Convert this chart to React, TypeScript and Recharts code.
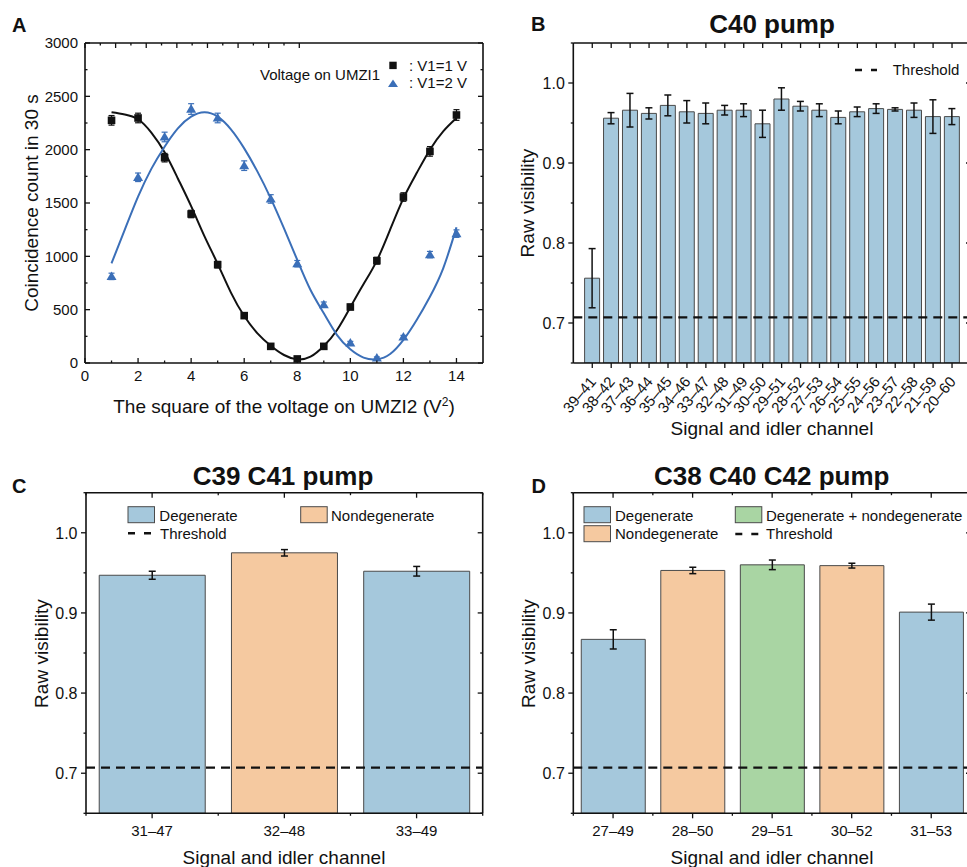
import React from "react";
import {
  BarChart,
  Bar,
  Cell,
  ComposedChart,
  ErrorBar,
  Line,
  ReferenceLine,
  Scatter,
  XAxis,
  YAxis,
} from "recharts";

const FONT = "Arial, 'Liberation Sans', Helvetica, sans-serif";
const INK = "#111";
const LINE_BLUE = "#3b6fb8";
const FILL: Record<string, string> = { deg: "#a5c8dc", nondeg: "#f5c9a0", both: "#a9d5a3" };
const BAR_EDGE = "#4a4a4a";
const THRESHOLD = 0.707;

// A: coincidence counts vs squared voltage on UMZI2
const voltageSq = [1, 2, 3, 4, 5, 6, 7, 8, 9, 10, 11, 12, 13, 14];
const countsV1 = [2275, 2297, 1925, 1397, 922, 444, 156, 38, 156, 525, 959, 1556, 1984, 2325];
const errV1 = [45, 45, 40, 35, 30, 22, 15, 10, 15, 25, 32, 40, 45, 50];
const countsV2 = [812, 1741, 2119, 2381, 2297, 1850, 1538, 931, 547, 188, 47, 244, 1016, 1213];
const errV2 = [30, 40, 45, 50, 45, 45, 40, 30, 25, 15, 10, 15, 30, 35];
const fitX = [1, 1.5, 2, 2.5, 3, 3.5, 4, 4.5, 5, 5.5, 6, 6.5, 7, 7.5, 8, 8.5, 9, 9.5, 10, 10.5, 11, 11.5, 12, 12.5, 13, 13.5, 14];
const fitV1 = [2350, 2330, 2285, 2160, 1975, 1730, 1470, 1190, 930, 660, 440, 278, 162, 75, 34, 59, 159, 309, 522, 740, 960, 1250, 1544, 1781, 2000, 2172, 2297];
const fitV2 = [935, 1250, 1559, 1820, 2028, 2200, 2309, 2350, 2309, 2190, 2012, 1794, 1544, 1262, 966, 684, 466, 262, 128, 50, 34, 84, 216, 403, 622, 888, 1272];
const aXTicks = [0, 1, 2, 3, 4, 5, 6, 7, 8, 9, 10, 11, 12, 13, 14];
const aYTicks = [0, 250, 500, 750, 1000, 1250, 1500, 1750, 2000, 2250, 2500, 2750, 3000];

// B: C40 pump
const bChannels = ["39–41", "38–42", "37–43", "36–44", "35–45", "34–46", "33–47", "32–48", "31–49", "30–50", "29–51", "28–52", "27–53", "26–54", "25–55", "24–56", "23–57", "22–58", "21–59", "20–60"];
const bVisibility = [0.756, 0.956, 0.966, 0.962, 0.972, 0.964, 0.962, 0.966, 0.966, 0.949, 0.98, 0.971, 0.966, 0.957, 0.964, 0.968, 0.967, 0.966, 0.958, 0.958];
const bError = [0.037, 0.007, 0.021, 0.007, 0.013, 0.014, 0.013, 0.006, 0.008, 0.017, 0.014, 0.006, 0.008, 0.008, 0.006, 0.006, 0.002, 0.009, 0.021, 0.01];

// C: C39 C41 pump
const cChannels = ["31–47", "32–48", "33–49"];
const cVisibility = [0.947, 0.975, 0.952];
const cError = [0.005, 0.004, 0.006];
const cKind = ["deg", "nondeg", "deg"];

// D: C38 C40 C42 pump
const dChannels = ["27–49", "28–50", "29–51", "30–52", "31–53"];
const dVisibility = [0.867, 0.953, 0.96, 0.959, 0.901];
const dError = [0.012, 0.004, 0.006, 0.003, 0.01];
const dKind = ["deg", "nondeg", "both", "nondeg", "deg"];

const visTicks = [0.65, 0.7, 0.75, 0.8, 0.85, 0.9, 0.95, 1.0, 1.05];

const fitRows = fitX.map((x, i) => ({ x, v1: fitV1[i], v2: fitV2[i] }));
const v1Rows = voltageSq.map((x, i) => ({ x, y: countsV1[i], err: errV1[i] }));
const v2Rows = voltageSq.map((x, i) => ({ x, y: countsV2[i], err: errV2[i] }));
const bRows = bChannels.map((ch, i) => ({ ch, vis: bVisibility[i], err: bError[i] }));
const cRows = cChannels.map((ch, i) => ({ ch, vis: cVisibility[i], err: cError[i], kind: cKind[i] }));
const dRows = dChannels.map((ch, i) => ({ ch, vis: dVisibility[i], err: dError[i], kind: dKind[i] }));

const axisStyle = { stroke: INK, strokeWidth: 1.6 };
const tickStroke = { stroke: INK, strokeWidth: 1.3 };
const OUT: Record<string, [number, number]> = { left: [-1, 0], right: [1, 0], top: [0, -1], bottom: [0, 1] };

const visMajor = (v: number) => Math.round(v * 100) % 10 === 0;
const visFmt = (v: number) => v.toFixed(1);

// one tick: line drawn from the axis, label only on major ticks
function AxisTick(props: any) {
  const { x, y, payload, side, inward, major, fmt, fs = 15, gap = 7, half, index, visibleTicksCount } = props;
  const isMaj = major ? major(payload.value) : true;
  const len = isMaj ? 5 : 2.5;
  const [ox, oy] = OUT[side];
  const s = inward ? -1 : 1;
  const mark = (px: number, py: number, l: number, k: string) => (
    <line key={k} x1={px} y1={py} x2={px + s * ox * l} y2={py + s * oy * l} {...tickStroke} />
  );
  const parts = [mark(x, y, len, "t")];
  if (half) {
    parts.push(mark(x - half, y, 2.5, "m0"));
    if (index === visibleTicksCount - 1) parts.push(mark(x + half, y, 2.5, "m1"));
  }
  if (isMaj && fmt) {
    if (side === "left") {
      parts.push(
        <text key="l" x={x - gap} y={y} dy="0.36em" textAnchor="end" fontSize={fs} fill={INK}>
          {fmt(payload.value)}
        </text>
      );
    } else if (side === "bottom") {
      parts.push(
        <text key="l" x={x} y={y + gap} dy="0.71em" textAnchor="middle" fontSize={fs} fill={INK}>
          {fmt(payload.value)}
        </text>
      );
    }
  }
  return <g>{parts}</g>;
}

function SlantTick(props: any) {
  const { x, y, payload } = props;
  return (
    <g>
      <line x1={x} y1={y} x2={x} y2={y + 5} {...tickStroke} />
      <text transform={`translate(${x + 4.5},${y + 19}) rotate(-50)`} textAnchor="end" fontSize={15} fill={INK}>
        {payload.value}
      </text>
    </g>
  );
}

const squareShape = (p: any) => <rect x={p.cx - 3.8} y={p.cy - 3.8} width={7.6} height={7.6} fill={INK} />;
const triangleShape = (p: any) => (
  <polygon points={`${p.cx},${p.cy - 5} ${p.cx + 5},${p.cy + 3.6} ${p.cx - 5},${p.cy + 3.6}`} fill={LINE_BLUE} />
);

function PanelA() {
  return (
    <ComposedChart width={500} height={440} data={fitRows} margin={{ top: 33, right: 7, bottom: 47, left: 25 }}>
      <XAxis
        xAxisId="b" dataKey="x" type="number" domain={[0, 15]} ticks={aXTicks} interval={0} height={30}
        tickSize={0} tickMargin={0} tickLine={false} axisLine={axisStyle} allowDataOverflow
        tick={(p: any) => <AxisTick {...p} side="bottom" inward major={(v: number) => v % 2 === 0} fmt={String} gap={7.7} />}
      />
      <XAxis
        xAxisId="t" orientation="top" type="number" domain={[0, 15]} ticks={aXTicks} interval={0} height={10}
        tickSize={0} tickMargin={0} tickLine={false} axisLine={axisStyle} allowDataOverflow
        tick={(p: any) => <AxisTick {...p} side="top" inward major={(v: number) => v % 2 === 0} />}
      />
      <YAxis
        yAxisId="l" type="number" domain={[0, 3000]} ticks={aYTicks} interval={0} width={60}
        tickSize={0} tickMargin={0} tickLine={false} axisLine={axisStyle} allowDataOverflow
        tick={(p: any) => <AxisTick {...p} side="left" inward major={(v: number) => v % 500 === 0} fmt={String} gap={7} />}
      />
      <YAxis
        yAxisId="r" orientation="right" type="number" domain={[0, 3000]} ticks={aYTicks} interval={0} width={10}
        tickSize={0} tickMargin={0} tickLine={false} axisLine={axisStyle} allowDataOverflow
        tick={(p: any) => <AxisTick {...p} side="right" inward major={(v: number) => v % 500 === 0} />}
      />
      <Line xAxisId="b" yAxisId="l" dataKey="v1" type="natural" stroke={INK} strokeWidth={2} dot={false} isAnimationActive={false} />
      <Line xAxisId="b" yAxisId="l" dataKey="v2" type="natural" stroke={LINE_BLUE} strokeWidth={2} dot={false} isAnimationActive={false} />
      <Scatter xAxisId="b" yAxisId="l" data={v1Rows} dataKey="y" shape={squareShape} isAnimationActive={false}>
        <ErrorBar dataKey="err" direction="y" width={3} stroke={INK} strokeWidth={1.2} />
      </Scatter>
      <Scatter xAxisId="b" yAxisId="l" data={v2Rows} dataKey="y" shape={triangleShape} isAnimationActive={false}>
        <ErrorBar dataKey="err" direction="y" width={3} stroke={LINE_BLUE} strokeWidth={1.2} />
      </Scatter>
    </ComposedChart>
  );
}

function visAxes(plotW: number, n: number, slant: boolean, pad: number) {
  const half = slant ? undefined : plotW / n / 2;
  return [
    <XAxis
      key="xb" xAxisId="c" dataKey="ch" type="category" padding={{ left: pad, right: pad }} height={slant ? 60 : 30}
      interval={0} tickSize={0} tickMargin={0} tickLine={false} axisLine={axisStyle}
      tick={(p: any) =>
        slant ? <SlantTick {...p} /> : <AxisTick {...p} side="bottom" half={half} fmt={String} gap={12.4} fs={15} />
      }
    />,
    <XAxis
      key="xt" xAxisId="ct" orientation="top" dataKey="ch" type="category" padding={{ left: pad, right: pad }} height={10}
      interval={0} tickSize={0} tickMargin={0} tickLine={false} axisLine={axisStyle}
      tick={(p: any) => <AxisTick {...p} side="top" inward half={half} />}
    />,
    <YAxis
      key="yl" yAxisId="v" type="number" domain={[0.65, 1.05]} ticks={visTicks} interval={0} width={53}
      tickSize={0} tickMargin={0} tickLine={false} axisLine={axisStyle} allowDataOverflow
      tick={(p: any) => <AxisTick {...p} side="left" major={visMajor} fmt={visFmt} gap={8.5} fs={16} />}
    />,
    <YAxis
      key="yr" yAxisId="vr" orientation="right" type="number" domain={[0.65, 1.05]} ticks={visTicks} interval={0} width={10}
      tickSize={0} tickMargin={0} tickLine={false} axisLine={axisStyle} allowDataOverflow
      tick={(p: any) => <AxisTick {...p} side="right" inward major={visMajor} />}
    />,
  ];
}

const threshold = (
  <ReferenceLine xAxisId="c" yAxisId="v" y={THRESHOLD} stroke={INK} strokeWidth={2.4} strokeDasharray="9 6" />
);

function PanelB() {
  return (
    <BarChart width={461} height={440} data={bRows} margin={{ top: 33, right: 0, bottom: 17, left: 0.3 }} barCategoryGap="9.5%">
      {visAxes(397.7, 20, true, 9.5)}
      <Bar xAxisId="c" yAxisId="v" dataKey="vis" fill={FILL.deg} stroke={BAR_EDGE} strokeWidth={1} isAnimationActive={false}>
        <ErrorBar dataKey="err" direction="y" width={3.5} stroke={INK} strokeWidth={1.5} />
      </Bar>
      {threshold}
    </BarChart>
  );
}

function KindBars({ rows, width, left, right }: { rows: any[]; width: number; left: number; right: number }) {
  const plotW = width - left - right - 53 - 10;
  return (
    <BarChart width={width} height={427} data={rows} margin={{ top: 42.7, right, bottom: 23.7, left }} barCategoryGap="10%">
      {visAxes(plotW, rows.length, false, 0)}
      <Bar xAxisId="c" yAxisId="v" dataKey="vis" stroke={BAR_EDGE} strokeWidth={1} isAnimationActive={false}>
        {rows.map((r) => (
          <Cell key={r.ch} fill={FILL[r.kind]} />
        ))}
        <ErrorBar dataKey="err" direction="y" width={3.5} stroke={INK} strokeWidth={1.5} />
      </Bar>
      {threshold}
    </BarChart>
  );
}

function Swatch({ x, y, kind }: { x: number; y: number; kind: string }) {
  return <rect x={x} y={y} width={26.5} height={16} fill={FILL[kind]} stroke={BAR_EDGE} strokeWidth={1} />;
}

function Dash({ x, y, w }: { x: number; y: number; w: number }) {
  return <line x1={x} y1={y} x2={x + w} y2={y} stroke={INK} strokeWidth={2.5} strokeDasharray="7 9" />;
}

function Overlay() {
  const letter = { fontSize: 20, fontWeight: 700, fill: INK };
  const title = { fontSize: 26, fontWeight: 700, fill: INK, textAnchor: "middle" as const };
  const axisLbl = { fontSize: 19, fill: INK, textAnchor: "middle" as const };
  const leg = { fontSize: 15, fill: INK };
  return (
    <svg width={967} height={867} style={{ position: "absolute", left: 0, top: 0, pointerEvents: "none" }}>
      <text x={12} y={32} {...letter}>A</text>
      <text x={531} y={31} {...letter}>B</text>
      <text x={12} y={493} {...letter}>C</text>
      <text x={531.5} y={493} {...letter}>D</text>

      <text x={772} y={33} {...title}>C40 pump</text>
      <text x={283} y={485} {...title}>C39 C41 pump</text>
      <text x={771.7} y={485} {...title}>C38 C40 C42 pump</text>

      <text transform="translate(38,203) rotate(-90)" {...axisLbl}>Coincidence count in 30 s</text>
      <text x={284} y={412.7} {...axisLbl}>
        The square of the voltage on UMZI2 (V<tspan dy={-7} fontSize={12}>2</tspan>
        <tspan dy={7}>)</tspan>
      </text>
      <text transform="translate(534,203) rotate(-90)" {...axisLbl}>Raw visibility</text>
      <text x={772} y={435} {...axisLbl}>Signal and idler channel</text>
      <text transform="translate(48,653.5) rotate(-90)" {...axisLbl}>Raw visibility</text>
      <text x={284} y={864} {...axisLbl}>Signal and idler channel</text>
      <text transform="translate(535,653.5) rotate(-90)" {...axisLbl}>Raw visibility</text>
      <text x={772} y={864} {...axisLbl}>Signal and idler channel</text>

      {/* A legend */}
      <text x={260} y={80} {...leg}>Voltage on UMZI1</text>
      <rect x={389.3} y={61.7} width={7.4} height={7.4} fill={INK} />
      <text x={409} y={70.7} {...leg}>: V1=1 V</text>
      <polygon points="393,79.5 398,87 388,87" fill={LINE_BLUE} />
      <text x={409} y={88.3} {...leg}>: V1=2 V</text>

      {/* B legend */}
      <Dash x={855} y={70} w={22} />
      <text x={892.7} y={75} {...leg}>Threshold</text>

      {/* C legend */}
      <Swatch x={128} y={506.7} kind="deg" />
      <text x={159.3} y={521} {...leg}>Degenerate</text>
      <Swatch x={300.7} y={506.7} kind="nondeg" />
      <text x={331} y={521} {...leg}>Nondegenerate</text>
      <Dash x={128} y={533.3} w={24} />
      <text x={160} y={538.7} {...leg}>Threshold</text>

      {/* D legend */}
      <Swatch x={584} y={506.7} kind="deg" />
      <text x={615} y={521} {...leg}>Degenerate</text>
      <Swatch x={735.3} y={506.7} kind="both" />
      <text x={766} y={521} {...leg}>Degenerate + nondegenerate</text>
      <Swatch x={584} y={525.7} kind="nondeg" />
      <text x={615} y={539} {...leg}>Nondegenerate</text>
      <Dash x={735.3} y={534} w={23} />
      <text x={766} y={539} {...leg}>Threshold</text>
    </svg>
  );
}

export default function App() {
  return (
    <div
      style={{
        position: "fixed", left: 0, top: 0, width: 967, height: 867, overflow: "hidden",
        background: "#fff", fontFamily: FONT, color: INK,
      }}
    >
      <div style={{ position: "absolute", left: 0, top: 0 }}>
        <PanelA />
      </div>
      <div style={{ position: "absolute", left: 520, top: 0 }}>
        <PanelB />
      </div>
      <div style={{ position: "absolute", left: 0, top: 440 }}>
        <KindBars rows={cRows} width={500} left={33} right={7.3} />
      </div>
      <div style={{ position: "absolute", left: 520, top: 440 }}>
        <KindBars rows={dRows} width={461} left={0.3} right={0} />
      </div>
      <Overlay />
    </div>
  );
}
